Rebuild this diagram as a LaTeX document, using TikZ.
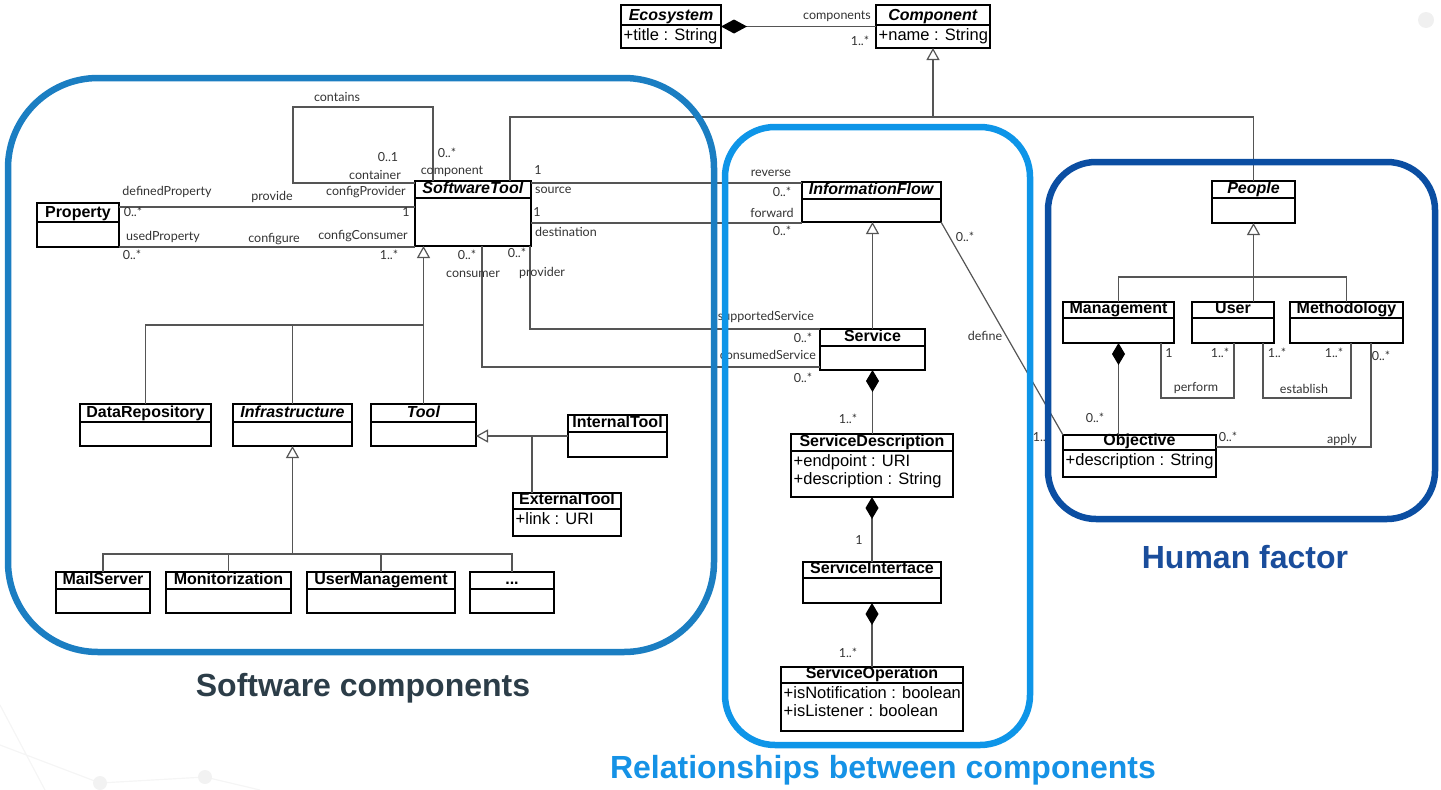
\documentclass[tikz,border=0pt]{standalone}
\usepackage{fontspec}
\setmainfont{Liberation Sans}
\newfontfamily\lblfont{Lato}
\usetikzlibrary{arrows.meta,calc}
\definecolor{swblue}{HTML}{1B7EC2}
\definecolor{relblue}{HTML}{0E95E8}
\definecolor{humblue}{HTML}{0B4EA2}
\definecolor{swtext}{HTML}{2C3D48}
\definecolor{reltext}{HTML}{1592E6}
\definecolor{humtext}{HTML}{1A4D9B}
\definecolor{linegray}{HTML}{555555}
\definecolor{lblgray}{HTML}{333333}
\tikzset{
 classbox/.style={draw=black, line width=1.8pt, fill=white, inner sep=0pt, outer sep=0pt},
 divline/.style={draw=black, line width=1.3pt},
 cname/.style={font=\fontsize{16}{18}\selectfont\bfseries, inner sep=0pt, anchor=base},
 cattr/.style={font=\fontsize{16.5}{18}\selectfont, inner sep=0pt, anchor=base west},
 conn/.style={draw=linegray, line width=1.2pt},
 gen/.style={conn, -{Triangle[length=12pt,width=13pt,fill=white,color=linegray,line width=1.2pt]}},
 comp/.style={conn, {Diamond[length=22pt,width=13pt,fill=black,color=black]}-},
 bigcomp/.style={conn, {Diamond[length=26pt,width=14pt,fill=black,color=black]}-},
 lbl/.style={font=\lblfont\fontsize{12.5}{13}\selectfont, text=lblgray, inner sep=0pt},
 region/.style={line width=6.5pt},
 title/.style={font=\fontsize{32}{36}\selectfont\bfseries, inner sep=0pt},
}
% #1 name, #2 x1, #3 y1, #4 x2, #5 y2, #6 divider y, #7 title, #8 attr1, #9 attr2
\newcommand\umlclass[9]{%
 \node[classbox, minimum width={(#4)-(#2)}, minimum height={(#5)-(#3)}] (#1) at ({(#2+#4)/2},{(#3+#5)/2}) {};
 \draw[divline] (#2,#6) -- (#4,#6);
 \node[cname] (#1t) at ({(#2+#4)/2},{#6-4.5}) {#7};
 \node[cattr] (#1a) at ({#2+2.5},{#6+15.5}) {#8};
 \node[cattr] (#1b) at ({#2+2.5},{#6+33}) {#9};
}
\begin{document}
\begin{tikzpicture}[x=1pt,y=-1pt]
\useasboundingbox (0,0) rectangle (1441,790);
% faint background decoration
\fill[gray!12] (1426,20) circle (8);
\draw[gray!8, line width=1.2pt] (0,705) -- (45,790) (0,745) -- (100,783) -- (205,777) -- (260,790);
\fill[gray!10] (100,783) circle (7) (205,777) circle (7);

% classes
\umlclass{eco}{621}{5}{721}{48}{25}{\textit{Ecosystem}}{+title : String}{}
\umlclass{comp}{876}{5}{990}{48}{25}{\textit{Component}}{+name : String}{}
\umlclass{sw}{415}{181}{531}{246}{198}{\textit{SoftwareTool}}{}{}
\umlclass{prop}{37}{203}{119}{247}{222}{Property}{}{}
\umlclass{iflow}{802}{182}{941}{222}{199}{\textit{InformationFlow}}{}{}
\umlclass{svc}{820}{329}{925}{370}{346}{Service}{}{}
\umlclass{sd}{791}{434}{953}{497}{451}{ServiceDescription}{+endpoint : URI}{+description : String}
\umlclass{si}{803}{562}{941}{603}{578}{ServiceInterface}{}{}
\umlclass{so}{781}{667}{963}{731}{683}{ServiceOperation}{+isNotification : boolean}{+isListener : boolean}
\umlclass{dr}{80}{404}{211}{446}{422}{DataRepository}{}{}
\umlclass{infra}{233}{404}{352}{446}{422}{\textit{Infrastructure}}{}{}
\umlclass{tool}{371}{404}{476}{446}{422}{\textit{Tool}}{}{}
\umlclass{it}{568}{415}{667}{457}{432}{InternalTool}{}{}
\umlclass{et}{513}{493}{621}{536}{509}{ExternalTool}{+link : URI}{}
\umlclass{mail}{56}{572}{150}{613}{589}{MailServer}{}{}
\umlclass{mon}{166}{572}{291}{613}{589}{Monitorization}{}{}
\umlclass{um}{307}{572}{455}{613}{589}{UserManagement}{}{}
\umlclass{dots}{470}{572}{554}{613}{589}{...}{}{}
\umlclass{ppl}{1212}{181}{1295}{223}{198}{\textit{People}}{}{}
\umlclass{mgmt}{1063}{302}{1174}{343}{318}{Management}{}{}
\umlclass{user}{1192}{302}{1274}{343}{318}{User}{}{}
\umlclass{meth}{1290}{302}{1403}{343}{318}{Methodology}{}{}
\umlclass{obj}{1063}{435}{1216}{477}{450}{Objective}{+description : String}{}

% connectors
\draw[bigcomp] (eco.east) -- (comp.west);
\coordinate (gtop) at (comp.south |- 0,117);
\draw[gen] (gtop) -- (comp.south);
\draw[conn] (sw.north -| 510,0) |- (gtop) -| (ppl.north);
\draw[conn] (sw.north -| 433,0) |- (293,107) |- (sw.west |- 0,183);
\draw[conn] (prop.east |- 0,207) -- (sw.west |- 0,207);
\draw[conn] (prop.east |- 0,247) -- (sw.west |- 0,247);
\draw[conn] (sw.east |- 0,183) -- (iflow.west |- 0,183);
\draw[conn] (sw.east |- 0,223) -- (iflow.west |- 0,223);
\draw[conn] (sw.south -| 530,0) |- (svc.west |- 0,329);
\draw[conn] (sw.south -| 482,0) |- (svc.west |- 0,367);
\draw[gen] (svc.north) -- (svc.north |- iflow.south);
\draw[conn] (iflow.south east) -- (obj.north west);
\draw[comp] (svc.south) -- (svc.south |- sd.north);
\draw[comp] (sd.south) -- (sd.south |- si.north);
\draw[comp] (si.south) -- (si.south |- so.north);
% software tool hierarchy
\draw[gen] (tool.north) -- (tool.north |- sw.south);
\draw[conn] (dr.north) |- (tool.north |- 0,325);
\draw[conn] (infra.north) -- (infra.north |- 0,325);
\draw[gen] (infra.south |- 0,554) -- (infra.south);
\draw[conn] (mail.north) |- (dots.north |- 0,554) -- (dots.north);
\draw[conn] (mon.north) -- (mon.north |- 0,554);
\draw[conn] (um.north) -- (um.north |- 0,554);
\coordinate (tj) at (532,436);
\draw[gen] (it.west |- tj) -- (tool.east |- tj);
\draw[conn] (et.north -| tj) -- (tj);
% people hierarchy
\coordinate (pj) at (ppl.south |- 0,277);
\draw[gen] (user.north -| ppl.south) -- (ppl.south);
\draw[conn] (mgmt.north) |- (pj) -| (meth.north);
\draw[comp] (mgmt.south) -- (mgmt.south |- obj.north);
\draw[conn] (mgmt.south -| 1161,0) |- (1197,398) -| (user.south -| 1234,0);
\draw[conn] (user.south -| 1263,0) |- (1300,398) -| (meth.south -| 1351,0);
\draw[conn] (meth.south -| 1371,0) |- (obj.east |- 0,447);

% labels
\node[lbl] (l1) at (837,16) {components};
\node[lbl] (l2) at (860,41) {1..*};
\node[lbl] (l3) at (337,97) {contains};
\node[lbl] (l4) at (388,157) {0..1};
\node[lbl] (l5) at (375,175) {container};
\node[lbl] (l6) at (447,153) {0..*};
\node[lbl] (l7) at (452,171) {component};
\node[lbl] (l8) at (366,192) {configProvider};
\node[lbl] (l9) at (167,192) {definedProperty};
\node[lbl] (l10) at (272,197) {provide};
\node[lbl] (l11) at (133,212) {0..*};
\node[lbl] (l12) at (406,212) {1};
\node[lbl] (l13) at (163,237) {usedProperty};
\node[lbl] (l14) at (274,239) {configure};
\node[lbl] (l15) at (363,236) {configConsumer};
\node[lbl] (l16) at (132,255) {0..*};
\node[lbl] (l17) at (389,255) {1..*};
\node[lbl] (l18) at (538,170) {1};
\node[lbl, anchor=west] (l19) at (535,190) {source};
\node[lbl] (l20) at (537,212) {1};
\node[lbl, anchor=west] (l21) at (535,232) {destination};
\node[lbl] (l22) at (771,173) {reverse};
\node[lbl] (l23) at (782,192) {0..*};
\node[lbl] (l24) at (772,213) {forward};
\node[lbl] (l25) at (782,231) {0..*};
\node[lbl] (l26) at (467,255) {0..*};
\node[lbl] (l27) at (473,274) {consumer};
\node[lbl] (l28) at (517,253) {0..*};
\node[lbl] (l29) at (542,273) {provider};
\node[lbl, anchor=east] (l30) at (814,317) {supportedService};
\node[lbl] (l31) at (803,338) {0..*};
\node[lbl, anchor=east] (l32) at (816,355) {consumedService};
\node[lbl] (l33) at (803,378) {0..*};
\node[lbl] (l34) at (965,237) {0..*};
\node[lbl] (l35) at (985,336) {define};
\node[lbl] (l36) at (1042,437) {1..*};
\node[lbl] (l37) at (848,419) {1..*};
\node[lbl] (l38) at (859,540) {1};
\node[lbl] (l39) at (848,653) {1..*};
\node[lbl] (l40) at (1095,418) {0..*};
\node[lbl] (l41) at (1169,353) {1};
\node[lbl] (l42) at (1220,353) {1..*};
\node[lbl] (l43) at (1196,388) {perform};
\node[lbl] (l44) at (1277,353) {1..*};
\node[lbl] (l45) at (1334,353) {1..*};
\node[lbl] (l46) at (1304,389) {establish};
\node[lbl] (l47) at (1381,356) {0..*};
\node[lbl] (l48) at (1228,437) {0..*};
\node[lbl] (l49) at (1342,440) {apply};

% regions
\draw[region, swblue, rounded corners=90pt] (8,78) rectangle (714,652);
\draw[region, relblue, rounded corners=50pt] (725,127) rectangle (1030,745);
\draw[region, humblue, rounded corners=48pt] (1048,162) rectangle (1435,519);
\node[title, text=swtext] (t1) at (363,688) {Software components};
\node[title, text=reltext] (t2) at (883,770) {Relationships between components};
\node[title, text=humtext] (t3) at (1245,557) {Human factor};
\end{tikzpicture}
\end{document}
